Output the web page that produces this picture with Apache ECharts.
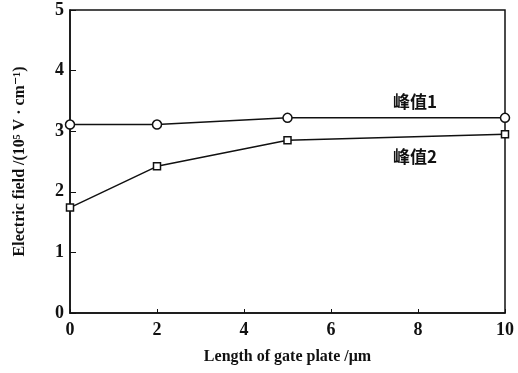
<!DOCTYPE html>
<html>
<head>
<meta charset="utf-8">
<script src="https://cdn.jsdelivr.net/npm/echarts@6/dist/echarts.min.js"></script>
<style>
  html, body { margin: 0; padding: 0; background: #fff; }
  #chart { width: 518px; height: 373px; }
</style>
</head>
<body>
<div id="chart"></div>
<script>
// Data
const gateLength = [0, 2, 5, 10];
const peak1 = [3.11, 3.11, 3.22, 3.22];
const peak2 = [1.74, 2.42, 2.85, 2.95];
const peak1Name = "峰值1";
const peak2Name = "峰值2";

const serif = "'Liberation Serif', 'DejaVu Serif', serif";

const chart = echarts.init(document.getElementById("chart"));

const options = {
  animation: false,
  backgroundColor: "#fff",
  grid: {
    left: 70,
    right: 13,
    top: 10,
    bottom: 60,
    show: true,
    borderColor: "#111",
    borderWidth: 1.5,
  },
  xAxis: {
    type: "value",
    min: 0,
    max: 10,
    interval: 2,
    name: "Length of gate plate /μm",
    nameLocation: "middle",
    nameGap: 36,
    nameTextStyle: { fontFamily: serif, fontSize: 16, fontWeight: "bold", color: "#111" },
    axisLine: { lineStyle: { color: "#111", width: 1.5 } },
    axisTick: { inside: true, length: 4, lineStyle: { color: "#111" } },
    axisLabel: { fontFamily: serif, fontSize: 18, fontWeight: "bold", color: "#111", margin: 8 },
    splitLine: { show: false },
  },
  yAxis: {
    type: "value",
    min: 0,
    max: 5,
    interval: 1,
    name: "Electric field /(10⁵ V · cm⁻¹)",
    nameLocation: "middle",
    nameGap: 42,
    nameTextStyle: { fontFamily: serif, fontSize: 16, fontWeight: "bold", color: "#111" },
    axisLine: { lineStyle: { color: "#111", width: 1.5 } },
    axisTick: { inside: true, length: 6, lineStyle: { color: "#111" } },
    axisLabel: { fontFamily: serif, fontSize: 18, fontWeight: "bold", color: "#111", margin: 6 },
    splitLine: { show: false },
  },
  series: [
    {
      name: peak1Name,
      type: "line",
      data: gateLength.map((x, i) => [x, peak1[i]]),
      symbol: "circle",
      symbolSize: 9,
      lineStyle: { color: "#111", width: 1.5 },
      itemStyle: { color: "#fff", borderColor: "#111", borderWidth: 1.5 },
    },
    {
      name: peak2Name,
      type: "line",
      data: gateLength.map((x, i) => [x, peak2[i]]),
      symbol: "rect",
      symbolSize: 7,
      lineStyle: { color: "#111", width: 1.5 },
      itemStyle: { color: "#fff", borderColor: "#111", borderWidth: 1.5 },
    },
  ],
  graphic: [
    {
      type: "text",
      left: 393,
      top: 93,
      style: { text: peak1Name, font: "bold 17px 'Noto Sans CJK SC', serif", fill: "#111" },
    },
    {
      type: "text",
      left: 393,
      top: 148,
      style: { text: peak2Name, font: "bold 17px 'Noto Sans CJK SC', serif", fill: "#111" },
    },
  ],
};

chart.setOption(options);
</script>
</body>
</html>
